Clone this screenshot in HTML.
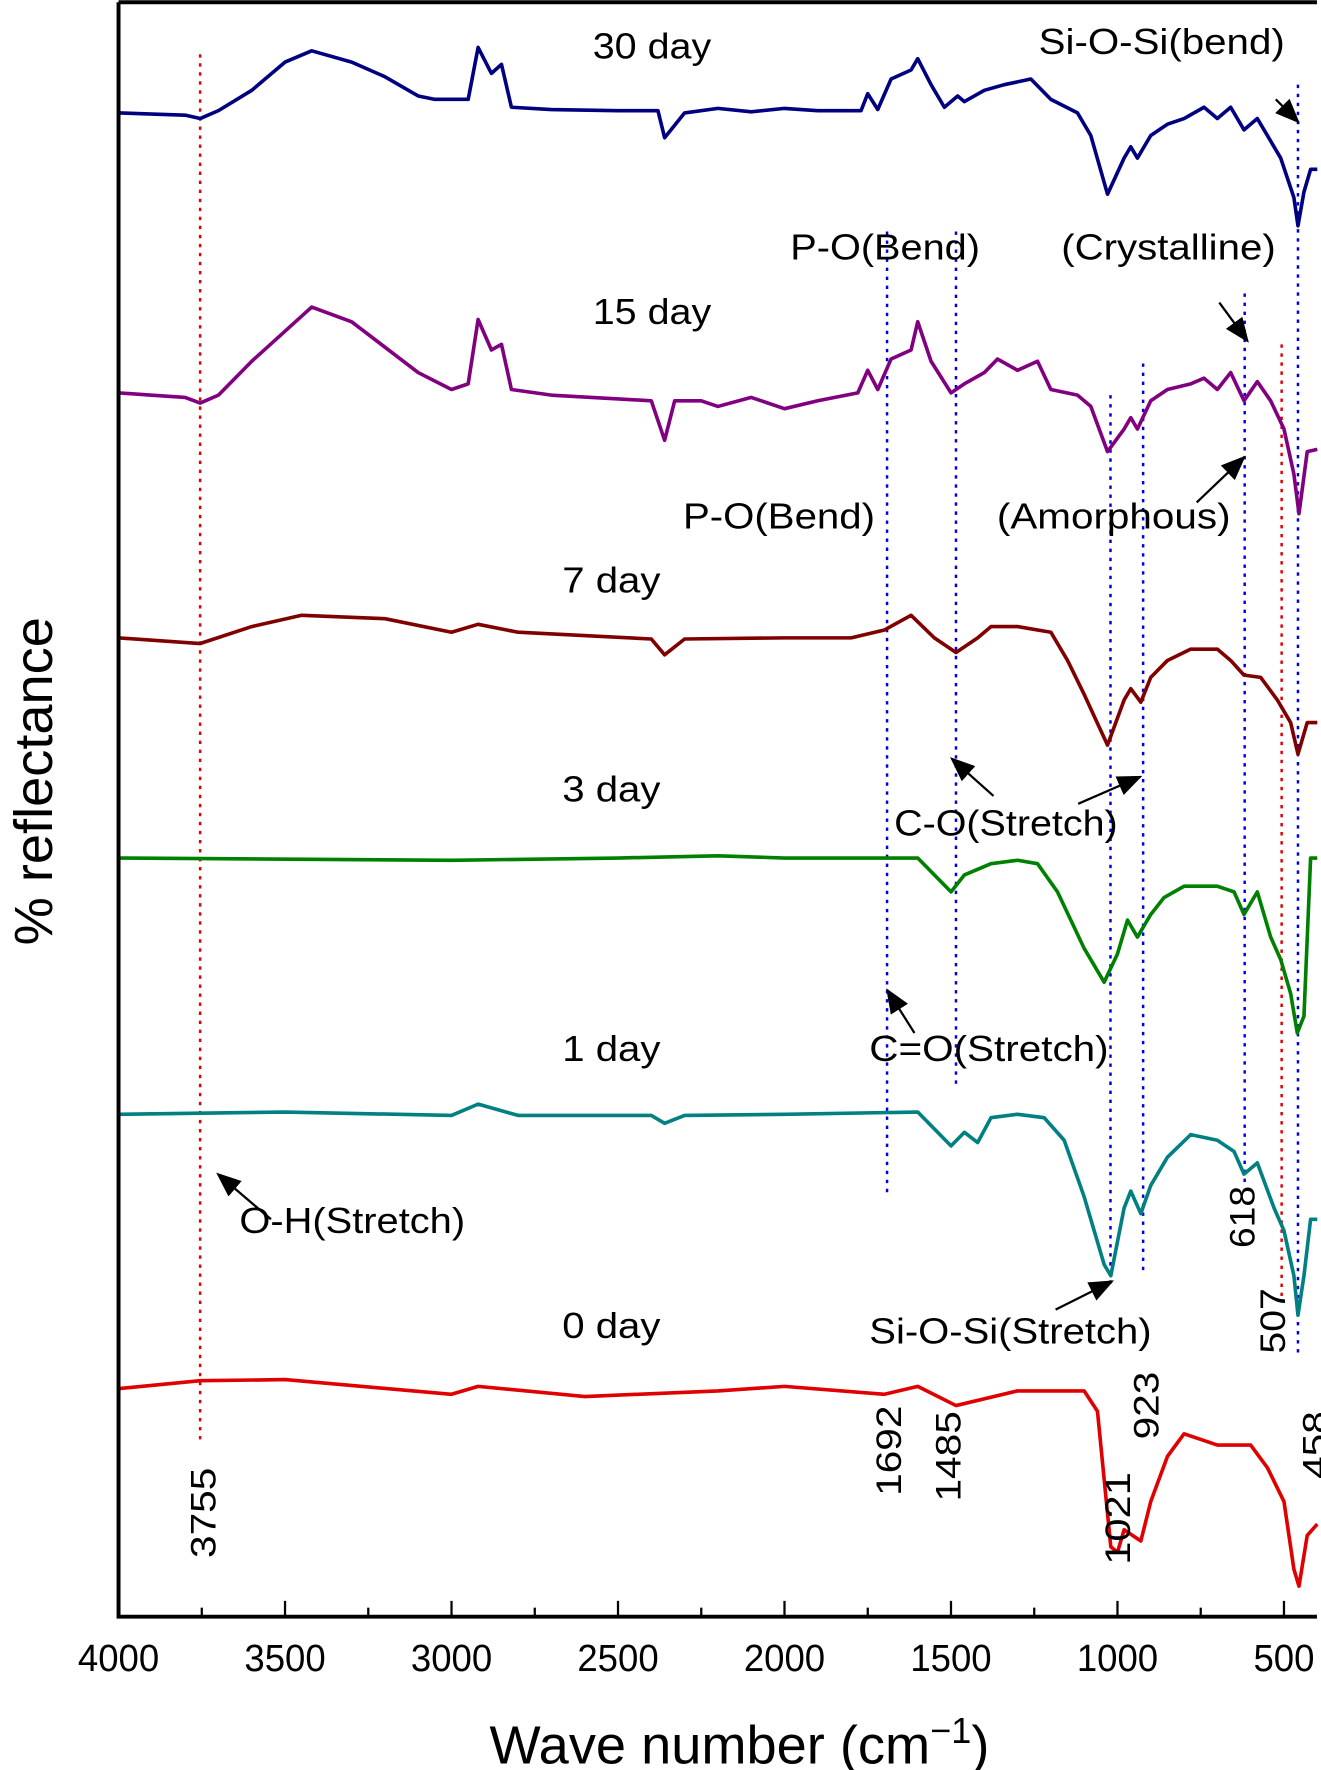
<!DOCTYPE html>
<html><head><meta charset="utf-8"><style>
html,body{margin:0;padding:0;background:#fff;}
svg{display:block;font-family:"Liberation Sans",Arial,sans-serif;}
</style></head><body>
<svg id="chart" width="1321" height="1770" viewBox="0 0 1170.1 1567.8" xmlns="http://www.w3.org/2000/svg">
<defs><marker id="ah2" markerWidth="22" markerHeight="18" refX="20" refY="9" orient="auto" markerUnits="userSpaceOnUse"><path d="M0,0 L22,9 L0,18 z" fill="#000"/></marker></defs>
<g id="guides"></g>
<g id="series"></g>
<g id="axes"></g>
<g id="ann" font-size="32"></g>
</svg>
<script>
const xTicks=[4000,3500,3000,2500,2000,1500,1000,500];
const xMinorTicks=[3750,3250,2750,2250,1750,1250,750];
const seriesNames=["30 day","15 day","7 day","3 day","1 day","0 day"];
const seriesColors=["#000080","#800080","#800000","#008000","#008080","#e00000"];
const wn30=[4000,3900,3800,3755,3700,3600,3500,3420,3300,3200,3100,3050,2950,2920,2880,2850,2820,2700,2500,2380,2360,2300,2200,2100,2000,1900,1770,1750,1720,1680,1620,1600,1560,1520,1480,1460,1400,1340,1260,1200,1120,1080,1030,980,960,940,900,850,800,740,700,660,620,580,550,510,470,458,440,420,400];
const r30=[1332,1331,1330,1327,1334,1352,1377,1387,1377,1364,1347,1344,1344,1390,1367,1375,1337,1335,1334,1334,1310,1332,1336,1333,1336,1334,1334,1349,1335,1362,1370,1380,1357,1337,1347,1342,1352,1357,1362,1344,1332,1312,1260,1292,1302,1292,1312,1322,1327,1337,1327,1337,1317,1327,1312,1292,1257,1232,1262,1282,1282];
const wn15=[4000,3900,3800,3755,3700,3600,3420,3300,3100,3000,2950,2920,2880,2850,2820,2700,2400,2360,2330,2250,2200,2100,2000,1900,1780,1750,1720,1680,1620,1600,1560,1500,1460,1400,1360,1300,1240,1200,1120,1080,1030,980,960,940,900,850,780,740,700,660,620,580,540,500,470,455,430,400];
const r15=[1084,1082,1080,1075,1082,1112,1160,1147,1102,1087,1092,1149,1122,1127,1087,1082,1077,1042,1077,1077,1072,1080,1070,1077,1084,1104,1087,1114,1122,1147,1112,1084,1092,1102,1114,1104,1112,1087,1082,1072,1032,1052,1062,1052,1077,1087,1092,1097,1087,1102,1077,1094,1077,1052,1012,977,1032,1034];
const wn7=[4000,3755,3600,3450,3200,3000,2920,2800,2400,2360,2300,2000,1800,1700,1620,1550,1485,1420,1380,1300,1200,1150,1100,1030,980,960,930,900,850,780,700,660,620,570,520,480,458,430,400];
const r7=[867,862,877,887,884,872,879,872,866,852,866,867,867,874,887,867,854,867,877,877,872,847,817,772,812,822,810,832,847,857,857,847,834,832,812,792,764,792,792];
const wn3=[4000,3000,2500,2200,2000,1600,1500,1460,1420,1380,1300,1240,1180,1100,1040,1000,970,940,900,860,800,700,650,620,580,540,510,480,460,440,420,400];
const r3=[672,670,672,674,672,672,642,657,662,667,670,667,642,592,562,587,617,602,622,637,647,647,642,622,642,602,582,552,517,532,672,672];
const wn1=[4000,3500,3000,2920,2800,2400,2360,2300,2000,1600,1500,1460,1420,1380,1300,1220,1160,1100,1040,1020,980,960,930,900,850,780,700,650,620,580,530,500,470,458,440,420,400];
const r1=[445,447,444,454,444,444,437,444,445,447,417,429,420,442,445,442,422,372,312,302,362,377,357,382,407,427,422,412,392,402,362,342,302,267,302,352,352];
const wn0=[4000,3755,3500,3000,2920,2600,2200,2000,1700,1600,1485,1300,1100,1060,1040,1020,1000,980,930,900,850,800,750,700,600,550,500,470,455,430,400];
const r0=[202,209,210,197,204,195,200,204,197,204,187,200,200,182,122,62,57,77,67,102,142,162,157,152,152,132,102,42,27,72,82];
const peakLabels=["3755","1692","1485","1021","923","618","507","458"];

const NS="http://www.w3.org/2000/svg";
const L=105,R=1166.5,T=2,B=1432;
const xs=w=>L+(4000-w)*(1137.3-L)/3500;
const ys=v=>B-v;
function el(t,a,p){const e=document.createElementNS(NS,t);for(const k in a)e.setAttribute(k,a[k]);p.appendChild(e);return e;}
const G=document.getElementById('guides'),S=document.getElementById('series'),A=document.getElementById('axes'),N=document.getElementById('ann');

const guideDefs=[[3755,48,1280,"#e00000"],[507,305,1150,"#e00000"],[1692,205,1060,"#0000dd"],[1485,205,965,"#0000dd"],[1021,350,1140,"#0000dd"],[923,322,1125,"#0000dd"],[618,260,1050,"#0000dd"],[458,75,1200,"#0000dd"]];
guideDefs.forEach(g=>{const l=el('line',{x1:xs(g[0]),x2:xs(g[0]),y1:g[1],y2:g[2],stroke:g[3],'stroke-width':2.2,'stroke-dasharray':'3,5'},G);

});

const allWn=[wn30,wn15,wn7,wn3,wn1,wn0],allR=[r30,r15,r7,r3,r1,r0];
allWn.forEach((w,i)=>{const d=w.map((x,j)=>(j?'L':'M')+xs(x).toFixed(1)+','+ys(allR[i][j]).toFixed(1)).join(' ');
const p=el('path',{d:d,fill:'none',stroke:seriesColors[i],'stroke-width':3.2,'stroke-linejoin':'round'},S);

});

const fr=el('path',{d:`M${L},${T} H${R} M${L},${T} V${B} H${R}`,fill:'none',stroke:'#000','stroke-width':3.5},A);


xTicks.forEach(t=>{el('line',{x1:xs(t),x2:xs(t),y1:B,y2:B-14,stroke:'#000','stroke-width':2},A);
const w=t>=1000?72:54;
const tx=el('text',{x:xs(t),y:1480,'text-anchor':'middle','font-size':34,'textLength':w,'lengthAdjust':'spacingAndGlyphs'},A);tx.textContent=t;

});
xMinorTicks.forEach(t=>el('line',{x1:xs(t),x2:xs(t),y1:B,y2:B-8,stroke:'#000','stroke-width':2},A));
const xt=el('text',{x:655,y:1562,'text-anchor':'middle','font-size':48},A);xt.innerHTML='Wave number (cm<tspan dy="-18" font-size="32">−1</tspan><tspan dy="18">)</tspan>';


const yt=el('text',{x:0,y:0,'text-anchor':'middle','font-size':48,transform:'translate(46,692) rotate(-90)'},A);yt.textContent='% reflectance';



const texts=[["30 day",525,52,105],["Si-O-Si(bend)",920,48,218],["P-O(Bend)",700,230,168],["(Crystalline)",940,230,190],["15 day",525,287,105],["P-O(Bend)",605,468,170],["(Amorphous)",883,468,207],["7 day",498,525,87],["3 day",498,710,87],["C-O(Stretch)",792,740,198],["1 day",498,940,87],["C=O(Stretch)",770,940,212],["O-H(Stretch)",212,1092,200],["0 day",498,1185,87],["Si-O-Si(Stretch)",770,1190,250]];
texts.forEach(t=>{const e=el('text',{x:t[1],y:t[2],textLength:t[3],lengthAdjust:'spacingAndGlyphs'},N);e.textContent=t[0];

});
const rot=[[180,1340,80],[787,1285,80],[840,1290,80],[990,1345,82],[1015,1245,60],[1100,1078,55],[1127,1170,58],[1165,1280,60]];
peakLabels.forEach((s,i)=>{const e=el('text',{x:0,y:0,'text-anchor':'middle',textLength:rot[i][2],lengthAdjust:'spacingAndGlyphs','font-size':31,transform:`translate(${rot[i][0]+11},${rot[i][1]}) rotate(-90)`},N);e.textContent=s;

});
const arrows=[[1130,88,1150,108],[1080,268,1105,302],[1060,445,1102,405],[880,705,843,672],[955,712,1010,688],[810,915,786,877],[240,1080,193,1040],[935,1160,985,1135]];
arrows.forEach(a=>{const l=el('line',{x1:a[0],y1:a[1],x2:a[2],y2:a[3],stroke:'#000','stroke-width':2,'marker-end':'url(#ah2)'},N);

});
</script>
</body></html>
